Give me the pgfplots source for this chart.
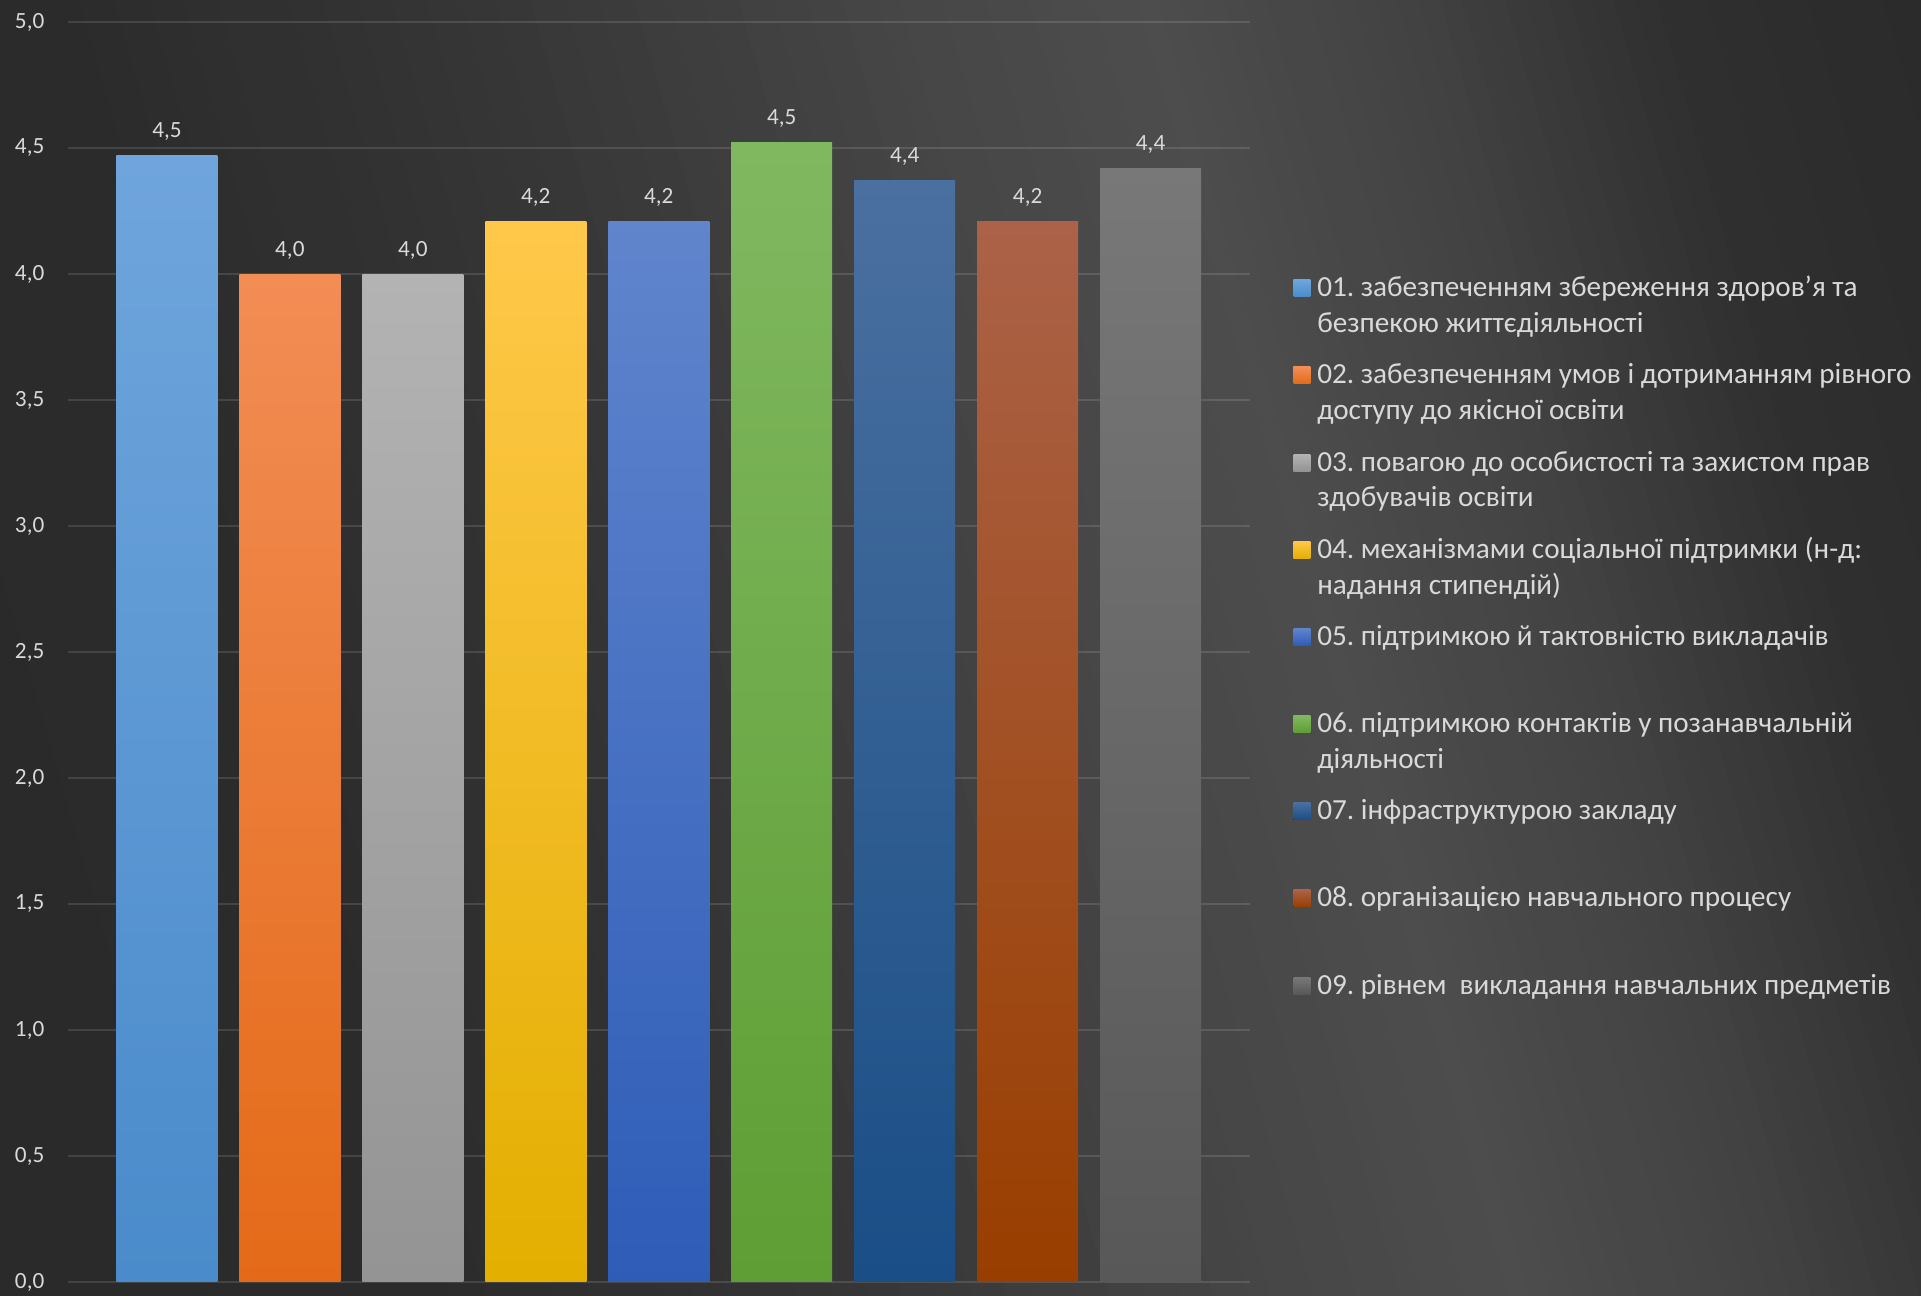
\documentclass[border=0pt]{standalone}
\usepackage{pgfplots}
\pgfplotsset{compat=1.18}
\usepackage{fontspec}
\setmainfont{Carlito}
\frenchspacing

\definecolor{txt}{HTML}{D9D9D9}

% bar colours: top / bottom of each gradient
\definecolor{aT}{HTML}{6FA5DC}\definecolor{aB}{HTML}{4A8BCB}
\definecolor{bT}{HTML}{F28D55}\definecolor{bB}{HTML}{E46A18}
\definecolor{cT}{HTML}{B3B3B3}\definecolor{cB}{HTML}{949494}
\definecolor{dT}{HTML}{FFC84A}\definecolor{dB}{HTML}{E3AF00}
\definecolor{eT}{HTML}{6085CD}\definecolor{eB}{HTML}{2E5CB7}
\definecolor{fT}{HTML}{80B860}\definecolor{fB}{HTML}{5E9E34}
\definecolor{gT}{HTML}{4A70A0}\definecolor{gB}{HTML}{1A4E86}
\definecolor{hT}{HTML}{AB6248}\definecolor{hB}{HTML}{993E00}
\definecolor{iT}{HTML}{787878}\definecolor{iB}{HTML}{585858}

\newcommand\twol[2]{\begin{tabular}[t]{@{}l@{}}#1\\#2\end{tabular}}

\pgfplotsset{
  gbar/.style={draw=none, top color=#1T, bottom color=#1B, bar shift=0pt,
    legend image code/.code={\fill[##1] (0cm,0cm) rectangle (0.17cm,0.17cm);}},
}

\begin{document}
\begin{tikzpicture}
\path[use as bounding box] (0,0) rectangle (19.21,12.96);
% dark background, lighter diagonal band behind the legend
\begin{scope}
\clip (0,0) rectangle (19.21,12.96);
\begin{scope}[rotate=16]
\foreach \sa/\sb/\ga/\gb in {0/4/42/43, 4/8/43/54, 8/12/54/70, 12/14.5/70/77,
    14.5/17/77/66, 17/19.5/66/47, 19.5/22.4/47/42} {
  \foreach \j in {0,...,11} {
    \pgfmathsetmacro\g{(\ga+(\gb-\ga)*\j/12)/255}
    \pgfmathsetmacro\xa{\sa+(\sb-\sa)*\j/12}
    \pgfmathsetmacro\xb{\sa+(\sb-\sa)*(\j+1)/12+0.02}
    \definecolor{strip}{gray}{\g}
    \fill[strip] (\xa,-30) rectangle (\xb,30);
  }
}
\end{scope}
\end{scope}

\begin{axis}[
  at={(0.68cm,0.14cm)}, anchor=south west,
  scale only axis, width=11.82cm, height=12.60cm,
  xmin=-0.8045, xmax=8.8086, ymin=0, ymax=5,
  ytick distance=0.5, xtick=\empty,
  ymajorgrids, grid style={white, opacity=0.12, line width=0.6pt},
  axis line style={draw=none}, major tick style={draw=none},
  /pgf/number format/.cd, fixed, fixed zerofill, precision=1, use comma, assume math mode=true,
  /pgfplots/.cd,
  yticklabel style={font=\fontsize{6.6}{7.8}\selectfont, text=txt, inner sep=0pt, xshift=-0.23cm},
  ybar, bar width=1.01cm,
  nodes near coords,
  every node near coord/.append style={font=\fontsize{6.6}{7.8}\selectfont, text=txt,
    anchor=base, inner sep=0pt, yshift=0.18cm},
  legend style={at={(1.036,0.8026)}, anchor=north west, draw=none, fill=none,
    inner sep=0pt, row sep=0pt, column sep=2pt,
    font=\fontsize{8.3}{10.2}\selectfont, text=txt,
    cells={anchor=base west},
    nodes={inner sep=0pt, text height=7.2pt, text depth=17.6pt}},
]
\addplot[gbar=a] coordinates {(0,4.47)};
\addlegendentry{\twol{01. забезпеченням збереження здоров’я та}{безпекою життєдіяльності}}
\addplot[gbar=b] coordinates {(1,4.00)};
\addlegendentry{\twol{02. забезпеченням умов і дотриманням рівного}{доступу до якісної освіти}}
\addplot[gbar=c] coordinates {(2,4.00)};
\addlegendentry{\twol{03. повагою до особистості та захистом прав}{здобувачів освіти}}
\addplot[gbar=d] coordinates {(3,4.21)};
\addlegendentry{\twol{04. механізмами соціальної підтримки (н-д:}{надання стипендій)}}
\addplot[gbar=e] coordinates {(4,4.21)};
\addlegendentry{05. підтримкою й тактовністю викладачів}
\addplot[gbar=f] coordinates {(5,4.52)};
\addlegendentry{\twol{06. підтримкою контактів у позанавчальній}{діяльності}}
\addplot[gbar=g] coordinates {(6,4.37)};
\addlegendentry{07. інфраструктурою закладу}
\addplot[gbar=h] coordinates {(7,4.21)};
\addlegendentry{08. організацією навчального процесу}
\addplot[gbar=i] coordinates {(8,4.42)};
\addlegendentry{09. рівнем\ \ викладання навчальних предметів}
\end{axis}
\end{tikzpicture}
\end{document}
